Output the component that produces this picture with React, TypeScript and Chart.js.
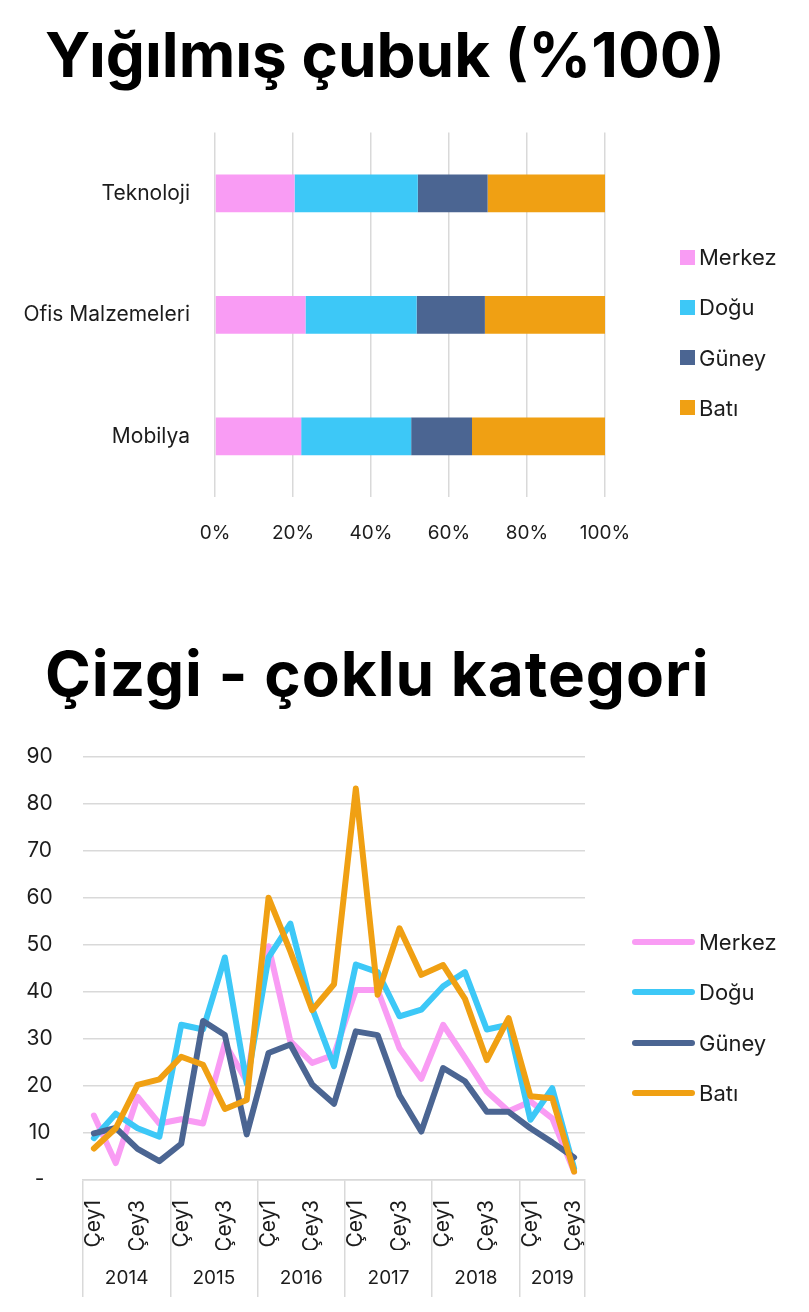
import { useEffect, useRef } from 'react'
import Chart from 'chart.js/auto'

// Bölgeler ve renkleri (her iki grafikte ortak)
const regions = ['Merkez', 'Doğu', 'Güney', 'Batı']
const regionColors = ['#f99cf4', '#3dc8f7', '#4b6592', '#f0a013']

// Yığılmış çubuk (%100) verisi
const barCategories = ['Teknoloji', 'Ofis Malzemeleri', 'Mobilya']
const barMerkez = [20.4, 23.2, 22.1]
const barDogu = [31.6, 28.5, 28.2]
const barGuney = [17.9, 17.5, 15.6]
const barBati = [30.1, 30.8, 34.1]
const percentTicks = [0, 20, 40, 60, 80, 100]

// Çizgi - çoklu kategori verisi
const years = ['2014', '2015', '2016', '2017', '2018', '2019']
const quartersPerYear = [4, 4, 4, 4, 4, 3]
const quarterNames = ['Çey1', 'Çey2', 'Çey3', 'Çey4']
const lineMerkez = [13.7, 3.6, 17.7, 12, 12.9, 12, 29, 21, 49.7, 29.5, 24.9, 26.6, 40.4, 40.4, 28, 21.5, 33, 26, 18.8, 14.6, 16.7, 13.1, 1.8]
const lineDogu = [8.9, 14.1, 11, 9.2, 33, 32, 47.3, 20.5, 47.3, 54.5, 36.5, 24.2, 45.8, 44.2, 34.8, 36.2, 41.2, 44.2, 32, 33, 12.8, 19.5, 2.5]
const lineGuney = [9.9, 11.1, 6.6, 4, 7.7, 33.8, 30.8, 9.7, 27, 28.8, 20.3, 16.2, 31.6, 30.8, 18, 10.3, 23.8, 21, 14.5, 14.5, 11, 8, 4.8]
const lineBati = [6.7, 11, 20.2, 21.4, 26.2, 24.5, 15.1, 17, 60, 48.6, 36.1, 41.6, 83.2, 39.4, 53.5, 43.6, 45.7, 38.5, 25.5, 34.4, 17.8, 17.4, 1.8]
const valueTicks = [0, 10, 20, 30, 40, 50, 60, 70, 80, 90]

const FONT = 'Inter, "Noto Sans", sans-serif'
const TEXT = '#1c1c1c'
const GRID = '#d9d9d9'

// yıl -> çeyrek etiketleri, yıl başlangıçları ve ortaları
const quarterLabels = years.flatMap((_, i) => quarterNames.slice(0, quartersPerYear[i]))
const yearStarts = quartersPerYear.map((_, i) => quartersPerYear.slice(0, i).reduce((a, b) => a + b, 0))
const yearCenters = yearStarts.map((s, i) => s + quartersPerYear[i] / 2)

function StackedBar() {
  const chartRef = useRef<HTMLCanvasElement>(null)

  useEffect(() => {
    if (!chartRef.current) return
    const series = [barMerkez, barDogu, barGuney, barBati]
    const chart = new Chart(chartRef.current, {
      type: 'bar',
      data: {
        labels: barCategories,
        datasets: series.map((data, i) => ({
          label: regions[i],
          data,
          backgroundColor: regionColors[i],
          borderWidth: 0,
          barPercentage: 0.31,
          categoryPercentage: 1
        }))
      },
      options: {
        indexAxis: 'y',
        responsive: false,
        animation: false,
        layout: { padding: { top: 0, right: 204, bottom: 0, left: 0 } },
        scales: {
          x: {
            stacked: true,
            min: 0,
            max: 100,
            afterBuildTicks: (axis: any) => {
              axis.ticks = percentTicks.map((value) => ({ value }))
            },
            grid: { color: GRID, lineWidth: 1.5, drawTicks: false },
            border: { display: false },
            ticks: {
              padding: 25,
              color: TEXT,
              font: { family: FONT, size: 19 },
              callback: (value) => `${value}%`
            }
          },
          y: {
            stacked: true,
            afterFit: (axis: any) => {
              axis.width = 215
            },
            grid: { display: false, drawTicks: false },
            border: { display: false },
            ticks: { padding: 25, color: TEXT, font: { family: FONT, size: 21 } }
          }
        },
        plugins: {
          legend: { display: false },
          tooltip: { enabled: false }
        }
      }
    })
    return () => chart.destroy()
  }, [])

  return <canvas ref={chartRef} width={809} height={475} />
}

function MultiCategoryLine() {
  const chartRef = useRef<HTMLCanvasElement>(null)

  useEffect(() => {
    if (!chartRef.current) return
    const series = [lineMerkez, lineDogu, lineGuney, lineBati]
    const chart = new Chart(chartRef.current, {
      type: 'line',
      data: {
        labels: quarterLabels,
        datasets: series.map((data, i) => ({
          label: regions[i],
          data,
          borderColor: regionColors[i],
          backgroundColor: regionColors[i],
          borderWidth: 6,
          borderCapStyle: 'round',
          borderJoinStyle: 'round',
          pointRadius: 0,
          tension: 0,
          // Batı en üstte çizilsin
          order: series.length - i
        }))
      },
      options: {
        responsive: false,
        animation: false,
        layout: { padding: { top: 0, right: 224, bottom: 0, left: 0 } },
        scales: {
          x: {
            type: 'category',
            offset: true,
            afterFit: (axis: any) => {
              axis.height = 70
            },
            grid: {
              offset: true,
              drawOnChartArea: false,
              tickLength: 117,
              lineWidth: 1.5,
              // yalnızca yıl sınırlarında çizgi
              color: (ctx: any) =>
                ctx.index === undefined || yearStarts.includes(ctx.index) ? GRID : 'rgba(0,0,0,0)'
            },
            border: { display: true, color: GRID, width: 1.5 },
            ticks: {
              autoSkip: false,
              minRotation: 90,
              maxRotation: 90,
              padding: -97,
              color: TEXT,
              font: { family: FONT, size: 21 },
              callback: (_value, index) => (index % 2 === 0 ? quarterLabels[index] : '')
            }
          },
          x2: {
            type: 'linear',
            position: 'bottom',
            weight: 1,
            min: 0,
            max: quarterLabels.length,
            afterBuildTicks: (axis: any) => {
              axis.ticks = yearCenters.map((value) => ({ value }))
            },
            afterFit: (axis: any) => {
              axis.height = 52
            },
            grid: { display: false, drawTicks: false },
            border: { display: false },
            ticks: {
              autoSkip: false,
              maxRotation: 0,
              padding: 17,
              color: TEXT,
              font: { family: FONT, size: 19 },
              callback: (_value, index) => years[index]
            }
          },
          y: {
            min: 0,
            max: 90,
            afterBuildTicks: (axis: any) => {
              axis.ticks = valueTicks.map((value) => ({ value }))
            },
            afterFit: (axis: any) => {
              axis.width = 83
            },
            grid: { color: GRID, lineWidth: 1.5, drawTicks: false },
            border: { display: false },
            ticks: {
              crossAlign: 'center',
              padding: 30,
              color: TEXT,
              font: { family: FONT, size: 21 },
              callback: (value) => (value === 0 ? '-' : `${value}`)
            }
          }
        },
        plugins: {
          legend: { display: false },
          tooltip: { enabled: false }
        }
      }
    })
    return () => chart.destroy()
  }, [])

  return <canvas ref={chartRef} width={809} height={588} />
}

// Sağdaki lejant: kare (çubuk) ya da kalın çizgi (çizgi grafiği)
function Legend({ left, top, swatch }: { left: number; top: number; swatch: 'box' | 'line' }) {
  return (
    <div
      style={{
        position: 'absolute',
        left,
        top,
        display: 'flex',
        flexDirection: 'column',
        gap: 28.3,
        fontFamily: FONT,
        fontSize: 22,
        lineHeight: '22px',
        color: TEXT
      }}
    >
      {regions.map((name, i) => (
        <div key={name} style={{ display: 'flex', alignItems: 'center', height: 22 }}>
          {swatch === 'box' ? (
            <span style={{ width: 15, height: 15, background: regionColors[i], marginRight: 4 }} />
          ) : (
            <span
              style={{ width: 63, height: 6, borderRadius: 3, background: regionColors[i], marginRight: 4 }}
            />
          )}
          <span>{name}</span>
        </div>
      ))}
    </div>
  )
}

const titleStyle: React.CSSProperties = {
  position: 'absolute',
  left: 45,
  margin: 0,
  fontFamily: FONT,
  fontWeight: 700,
  fontSize: 62,
  lineHeight: '62px',
  color: '#000',
  whiteSpace: 'nowrap'
}

export default function App() {
  return (
    <div style={{ position: 'absolute', left: 0, top: 0, width: 809, height: 1312, background: '#fff' }}>
      <div style={{ ...titleStyle, top: 24 }}>Yığılmış çubuk (%100)</div>
      <div style={{ position: 'absolute', left: 0, top: 95 }}>
        <StackedBar />
      </div>
      <Legend left={680} top={246} swatch="box" />
      <div style={{ ...titleStyle, top: 643, letterSpacing: 1 }}>Çizgi - çoklu kategori</div>
      <div style={{ position: 'absolute', left: 0, top: 714 }}>
        <MultiCategoryLine />
      </div>
      <Legend left={632} top={931} swatch="line" />
    </div>
  )
}
